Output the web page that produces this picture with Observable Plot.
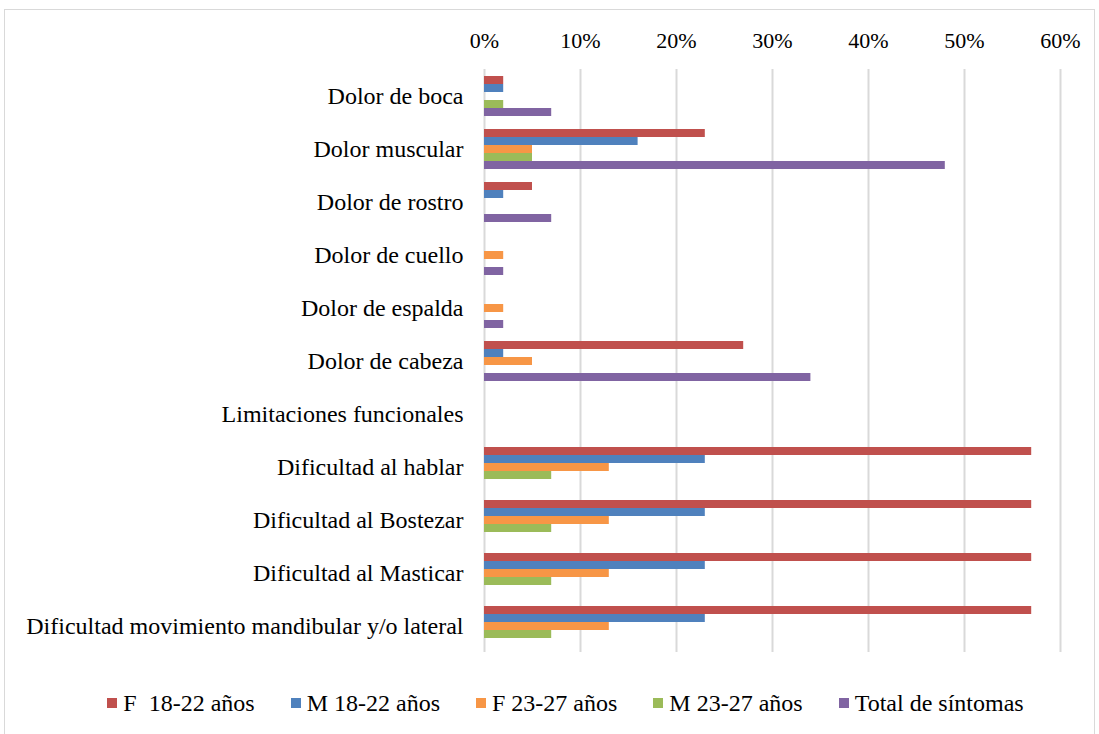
<!DOCTYPE html>
<html><head><meta charset="utf-8">
<script src="https://cdn.jsdelivr.net/npm/d3@7"></script>
<script src="https://cdn.jsdelivr.net/npm/@observablehq/plot@0.6"></script>
<style>
html,body{margin:0;padding:0;background:#fff;}
body{width:1099px;height:734px;overflow:hidden;position:relative;font-family:"Liberation Serif","Times New Roman",serif;}
#frame{position:absolute;left:4px;top:9px;width:1091px;height:800px;border:1px solid #d9d9d9;box-sizing:border-box;}
#chart{position:absolute;left:0;top:0;}
#legend{position:absolute;left:16px;top:689px;width:1099px;display:flex;justify-content:center;gap:36px;font-size:24px;line-height:28px;color:#000;}
#legend .item{display:flex;align-items:center;white-space:pre;}
#legend .sw{width:10px;height:10px;margin-right:6px;display:inline-block;}
</style></head><body>
<div id="frame"></div>
<div id="chart"></div>
<div id="legend"></div>
<script>
const categories = ["Dolor de boca","Dolor muscular","Dolor de rostro","Dolor de cuello","Dolor de espalda","Dolor de cabeza","Limitaciones funcionales","Dificultad al hablar","Dificultad al Bostezar","Dificultad al Masticar","Dificultad movimiento mandibular y/o lateral"];
const seriesNames = ["F  18-22 años","M 18-22 años","F 23-27 años","M 23-27 años","Total de síntomas"];
const seriesColors = ["#C0504D","#4F81BD","#F79646","#9BBB59","#8064A2"];
const f1822 = [2,23,5,0,0,27,0,57,57,57,57];
const m1822 = [2,16,2,0,0,2,0,23,23,23,23];
const f2327 = [0,5,0,2,2,5,0,13,13,13,13];
const m2327 = [2,5,0,0,0,0,0,7,7,7,7];
const total = [7,48,7,2,2,34,0,0,0,0,0];
const xTicks = [0,10,20,30,40,50,60];

const seriesValues = [f1822, m1822, f2327, m2327, total];
const rows = [];
categories.forEach((c, i) => {
  seriesNames.forEach((s, j) => {
    rows.push({category: c, series: s, value: seriesValues[j][i]});
  });
});

const chart = Plot.plot({
  width: 1099,
  height: 670,
  marginLeft: 484,
  marginRight: 39,
  marginTop: 66,
  marginBottom: 15,
  style: {fontFamily: '"Liberation Serif","Times New Roman",serif', fontSize: "22px", color: "#000", background: "transparent"},
  x: {domain: [0, 60], ticks: xTicks, tickFormat: d => d + "%", axis: "top", tickSize: 0, tickPadding: 22, label: null},
  y: {domain: seriesNames, axis: null, paddingInner: 0, paddingOuter: 0.8},
  fy: {domain: categories, padding: 0, tickSize: 0, tickPadding: 21, label: null},
  color: {domain: seriesNames, range: seriesColors},
  facet: {data: rows, y: "category"},
  marks: [
    Plot.ruleX(xTicks, {stroke: "#d9d9d9", strokeWidth: 2}),
    Plot.barX(rows, {filter: d => d.value > 0, x: "value", y: "series", fill: "series"})
  ]
});
d3.select(chart).selectAll("text").each(function() {
  const t = this.textContent;
  if (categories.includes(t)) {
    this.setAttribute("font-size", "24px");
  }
});
document.getElementById("chart").appendChild(chart);

const legend = document.getElementById("legend");
seriesNames.forEach((s, j) => {
  const it = document.createElement("div");
  it.className = "item";
  const sw = document.createElement("span");
  sw.className = "sw";
  sw.style.background = seriesColors[j];
  it.appendChild(sw);
  it.appendChild(document.createTextNode(s));
  legend.appendChild(it);
});
</script>
</body></html>
